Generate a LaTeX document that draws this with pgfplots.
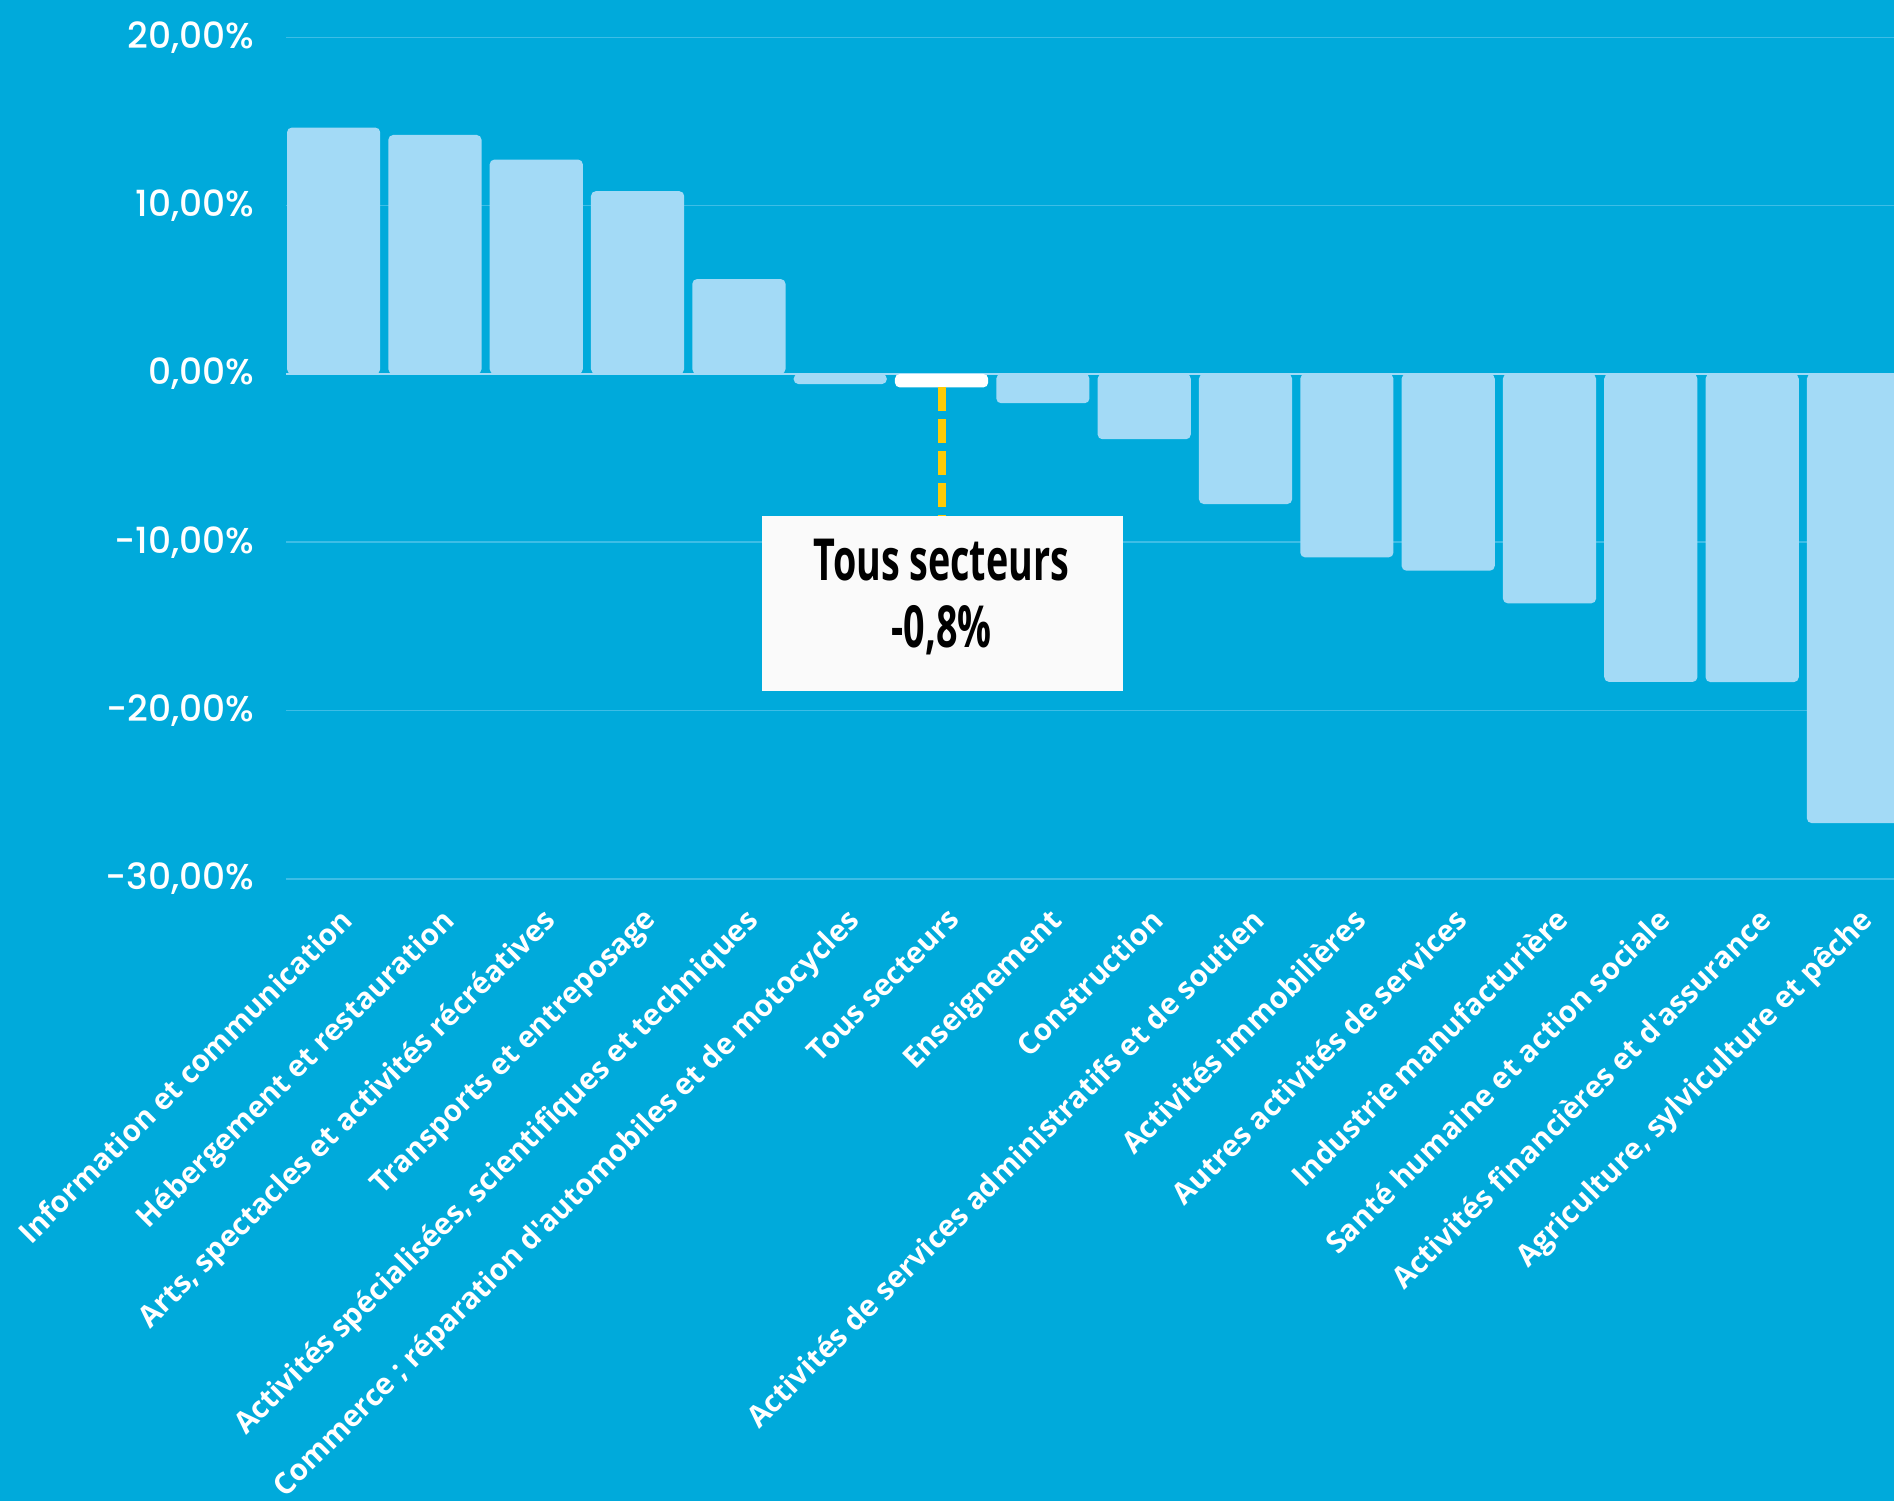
\documentclass[border=0pt]{standalone}
\usepackage{pgfplots}
\pgfplotsset{compat=1.18}
\usepackage{fontspec}
\setmainfont{Open Sans}
\newfontfamily\tickfont{Poppins}[UprightFont=*-Medium]
\newfontfamily\labfont{Open Sans}
\newfontfamily\boxfont{Open Sans}[FakeStretch=0.65]
\definecolor{bg}{HTML}{00AADB}
\definecolor{barc}{HTML}{A3DAF6}
\definecolor{gridc}{HTML}{3DBDE6}
\definecolor{dashc}{HTML}{FFCB05}
\definecolor{boxc}{HTML}{FAFAFA}
\begin{document}
\begin{tikzpicture}
\useasboundingbox (-71.5pt,-155.5pt) rectangle (402pt,219.7pt);
\clip (-71.5pt,-155.5pt) rectangle (402pt,219.7pt);
\fill[bg] (-71.5pt,-155.5pt) rectangle (402pt,219.7pt);
\begin{axis}[
  at={(0pt,0pt)}, anchor=south west,
  scale only axis, width=402pt, height=219.7pt,
  xmin=-0.47, xmax=15.40, ymin=-30, ymax=22.22,
  ybar, bar width=23.3pt,
  axis line style={draw=none}, tick style={draw=none},
  ytick={-30,-20,-10,0,10,20},
  yticklabels={{-30,00\%},{-20,00\%},{-10,00\%},{0,00\%},{10,00\%},{20,00\%}},
  yticklabel style={font=\tickfont\fontsize{9}{9}\selectfont, text=white, anchor=east, inner sep=0pt, xshift=-7.75pt},
  ymajorgrids, grid style={gridc, line width=0.4pt},
  xtick={0,...,15},
  xticklabels={Information et communication, Hébergement et restauration, {Arts, spectacles et activités récréatives}, Transports et entreposage, {Activités spécialisées, scientifiques et techniques}, Commerce ; réparation d'automobiles et de motocycles, Tous secteurs, Enseignement, Construction, Activités de services administratifs et de soutien, Activités immobilières, Autres activités de services, Industrie manufacturière, Santé humaine et action sociale, Activités financières et d'assurance, {Agriculture, sylviculture et pêche}},
  xticklabel style={font=\labfont\bfseries\fontsize{7.4}{9}\selectfont, text=white, rotate=45, anchor=north east, inner sep=0pt, xshift=-0.8pt, yshift=-2.5pt},
]
\addplot[sharp plot, barc, line width=0.6pt, forget plot] coordinates {(-0.47,0) (15.40,0)};
\addplot[fill=barc, draw=none, bar shift=0pt, rounded corners=1.2pt] coordinates {
(0,14.64) (1,14.2) (2,12.74) (3,10.86) (4,5.64) (5,-0.6)
(7,-1.74) (8,-3.88) (9,-7.73) (10,-10.9) (11,-11.69) (12,-13.63)
(13,-18.3) (14,-18.31) (15,-26.69)};
\addplot[fill=white, draw=none, bar shift=0pt, rounded corners=1.2pt] coordinates {(6,-0.8)};
\addplot[sharp plot, dashc, line width=2pt, dash pattern=on 6pt off 2pt, forget plot] coordinates {(6,-0.8) (6,-8.44)};
\fill[boxc] (axis cs:4.23,-8.44) rectangle (axis cs:7.79,-18.82);
\node[font=\boxfont\bfseries\fontsize{14.5}{16}\selectfont, text=black] at (axis cs:6,-11.05) {Tous secteurs};
\node[font=\boxfont\bfseries\fontsize{14.5}{16}\selectfont, text=black] at (axis cs:6,-15.21) {-0,8\%};
\end{axis}
\end{tikzpicture}
\end{document}
